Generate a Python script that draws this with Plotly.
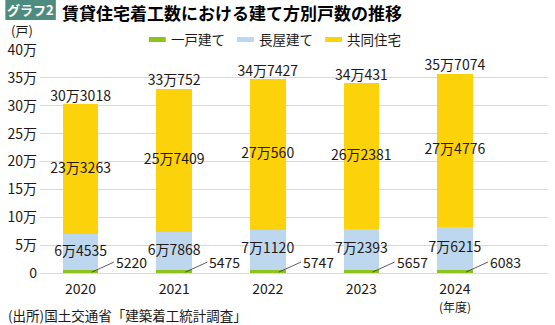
import plotly.graph_objects as go

years = ["2020", "2021", "2022", "2023", "2024"]
detached = [5220, 5475, 5747, 5657, 6083]          # 一戸建て
row_house = [64535, 67868, 71120, 72393, 76215]    # 長屋建て
apartment = [233263, 257409, 270560, 262381, 274776]  # 共同住宅
y_tickvals = [0, 50000, 100000, 150000, 200000, 250000, 300000, 350000, 400000]
y_ticktext = ["0", "5万", "10万", "15万", "20万", "25万", "30万", "35万", "40万"]

C_GREEN = "#8DC21F"
C_BLUE = "#BDD7EE"
C_YELLOW = "#FCD20A"
FONT = "Noto Sans CJK JP"
TXT = "#231815"
FS = 14

W, H = 555, 325
ML, MR, MT, MB = 35, 7, 50, 52
PH = H - MT - MB


def py(p):
    return (H - MB - p) / PH


def px(p):
    return (p - ML) / (W - ML - MR)


def fmt(v):
    man, rest = divmod(v, 10000)
    return f"{man}万{rest}" if man else f"{rest}"


xs = list(range(len(years)))
fig = go.Figure()
for name, vals, col in [("一戸建て", detached, C_GREEN), ("長屋建て", row_house, C_BLUE),
                        ("共同住宅", apartment, C_YELLOW)]:
    fig.add_trace(go.Bar(x=xs, y=vals, name=name, marker=dict(color=col, line=dict(width=0)),
                         width=0.38, showlegend=False, hoverinfo="skip"))

totals = [a + b + c for a, b, c in zip(detached, row_house, apartment)]
mid_blue = [d + r / 2 for d, r in zip(detached, row_house)]
mid_yel = [d + r + a / 2 for d, r, a in zip(detached, row_house, apartment)]

fig.add_trace(go.Scatter(x=xs, y=mid_blue, mode="text", text=[fmt(v) for v in row_house],
                         textfont=dict(family=FONT, size=FS, color=TXT), showlegend=False,
                         hoverinfo="skip"))
fig.add_trace(go.Scatter(x=xs, y=mid_yel, mode="text", text=[fmt(v) for v in apartment],
                         textfont=dict(family=FONT, size=FS, color=TXT), showlegend=False,
                         hoverinfo="skip"))
fig.add_trace(go.Scatter(x=xs, y=totals, mode="text", text=[fmt(v) for v in totals],
                         textposition="top center",
                         textfont=dict(family=FONT, size=FS, color=TXT), showlegend=False,
                         hoverinfo="skip"))

annotations = []
for i, v in enumerate(detached):
    annotations.append(dict(x=i + 0.12, y=v * 0.3, xref="x", yref="y", text=fmt(v),
                            showarrow=True, arrowhead=0, arrowwidth=0.8, arrowcolor="#333",
                            ax=22, ay=-10, xanchor="left", yanchor="middle",
                            font=dict(family=FONT, size=FS, color=TXT)))

# Title
shapes = [dict(type="rect", xref="paper", yref="paper", x0=px(0), x1=px(51),
               y0=py(20), y1=py(0), fillcolor="#4E8C80", line=dict(width=0), layer="above")]
annotations.append(dict(x=px(25.5), y=py(10), xref="paper", yref="paper", text="<b>グラフ2</b>",
                        showarrow=False, xanchor="center", yanchor="middle",
                        font=dict(family=FONT, size=13, color="white")))
annotations.append(dict(x=px(55), y=py(12.5), xref="paper", yref="paper",
                        text="<b>賃貸住宅着工数における建て方別戸数の推移</b>",
                        showarrow=False, xanchor="left", yanchor="middle",
                        font=dict(family=FONT, size=17, color="#000")))
# Legend
leg = [("一戸建て", C_GREEN, 145), ("長屋建て", C_BLUE, 234), ("共同住宅", C_YELLOW, 323)]
for name, col, x0 in leg:
    shapes.append(dict(type="rect", xref="paper", yref="paper", x0=px(x0), x1=px(x0 + 17),
                       y0=py(42), y1=py(37), fillcolor=col, line=dict(width=0)))
    annotations.append(dict(x=px(x0 + 20), y=py(39.5), xref="paper", yref="paper", text=name,
                            showarrow=False, xanchor="left", yanchor="middle",
                            font=dict(family=FONT, size=13.5, color=TXT)))
annotations.append(dict(x=px(4), y=py(31), xref="paper", yref="paper", text="(戸)",
                        showarrow=False, xanchor="left", yanchor="middle",
                        font=dict(family=FONT, size=13, color=TXT)))
annotations.append(dict(x=4, y=py(306), xref="x", yref="paper", text="(年度)",
                        showarrow=False, xanchor="center", yanchor="middle",
                        font=dict(family=FONT, size=12, color=TXT)))
annotations.append(dict(x=px(1), y=py(315), xref="paper", yref="paper",
                        text="(出所)国土交通省「建築着工統計調査」",
                        showarrow=False, xanchor="left", yanchor="middle",
                        font=dict(family=FONT, size=13.5, color=TXT)))

fig.update_layout(
    width=W, height=H, margin=dict(l=ML, r=MR, t=MT, b=MB),
    barmode="stack", bargap=0, plot_bgcolor="white", paper_bgcolor="white",
    font=dict(family=FONT, size=FS, color=TXT),
    shapes=shapes, annotations=annotations,
    xaxis=dict(range=[-0.434, 4.995], tickvals=xs, ticktext=years, showgrid=False,
               zeroline=False, showline=False, ticks="outside", ticklen=3,
               tickcolor="rgba(0,0,0,0)", tickfont=dict(family=FONT, size=FS, color=TXT)),
    yaxis=dict(range=[0, 400000], tickvals=y_tickvals, ticktext=y_ticktext, showgrid=True,
               gridcolor="#D9D9D9", gridwidth=1, zeroline=True, zerolinecolor="#D9D9D9",
               zerolinewidth=1, showline=False, ticks="", ticklabelstandoff=2,
               tickfont=dict(family=FONT, size=FS, color=TXT)),
)
fig.write_html("out.html")
